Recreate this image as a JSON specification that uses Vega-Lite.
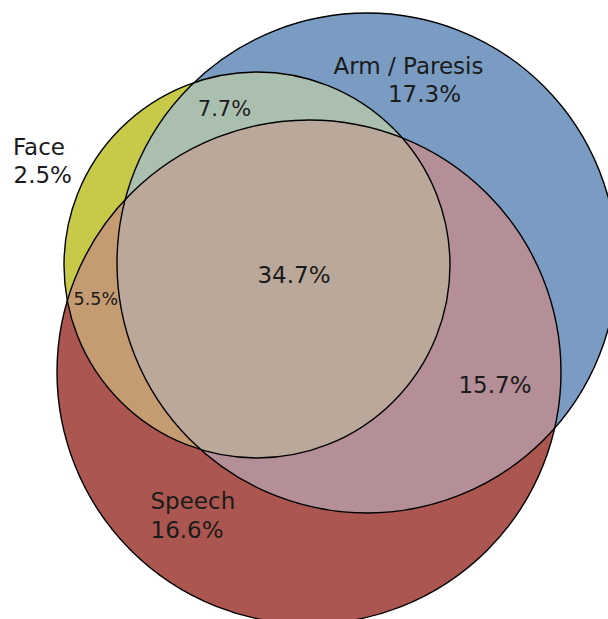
{"$schema":"https://vega.github.io/schema/vega-lite/v6.json","width":608,"height":619,"padding":0,"autosize":{"type":"none"},"background":"white","config":{"view":{"stroke":null}},"datasets":{"circles":[{"set":"Face","x":257,"y":265,"r":193},{"set":"Arm / Paresis","x":367,"y":263,"r":250},{"set":"Speech","x":309,"y":372,"r":252}]},"encoding":{"x":{"field":"x","type":"quantitative","scale":{"domain":[0,608]},"axis":null},"y":{"field":"y","type":"quantitative","scale":{"domain":[0,619],"reverse":true},"axis":null}},"layer":[{"data":{"name":"circles"},"transform":[{"filter":"datum.set == 'Face'"}],"mark":{"type":"point","shape":"circle","filled":true,"color":"#71f300","opacity":1,"strokeWidth":0,"clip":true},"encoding":{"size":{"field":"r","type":"quantitative","scale":{"type":"pow","exponent":2,"domain":[0,300],"range":[0,360000]},"legend":null}}},{"data":{"name":"circles"},"transform":[{"filter":"datum.set == 'Arm / Paresis'"}],"mark":{"type":"point","shape":"circle","filled":true,"color":"#2e0033","opacity":1,"strokeWidth":0,"clip":true},"encoding":{"size":{"field":"r","type":"quantitative","scale":{"type":"pow","exponent":2,"domain":[0,300],"range":[0,360000]},"legend":null}}},{"data":{"name":"circles"},"transform":[{"filter":"datum.set == 'Speech'"}],"mark":{"type":"point","shape":"circle","filled":true,"color":"#7a1203","opacity":1,"strokeWidth":0,"clip":true},"encoding":{"size":{"field":"r","type":"quantitative","scale":{"type":"pow","exponent":2,"domain":[0,300],"range":[0,360000]},"legend":null}}},{"data":{"name":"circles"},"transform":[{"filter":"datum.set == 'Face'"}],"mark":{"type":"point","shape":"circle","filled":true,"color":"#ffc619","opacity":0.7,"strokeWidth":0,"clip":true},"encoding":{"size":{"field":"r","type":"quantitative","scale":{"type":"pow","exponent":2,"domain":[0,300],"range":[0,360000]},"legend":null}}},{"data":{"name":"circles"},"transform":[{"filter":"datum.set == 'Arm / Paresis'"}],"mark":{"type":"point","shape":"circle","filled":true,"color":"#9bddff","opacity":0.7,"strokeWidth":0,"clip":true},"encoding":{"size":{"field":"r","type":"quantitative","scale":{"type":"pow","exponent":2,"domain":[0,300],"range":[0,360000]},"legend":null}}},{"data":{"name":"circles"},"transform":[{"filter":"datum.set == 'Speech'"}],"mark":{"type":"point","shape":"circle","filled":true,"color":"#cb8483","opacity":0.6,"strokeWidth":0,"clip":true},"encoding":{"size":{"field":"r","type":"quantitative","scale":{"type":"pow","exponent":2,"domain":[0,300],"range":[0,360000]},"legend":null}}},{"data":{"name":"circles"},"transform":[{"filter":"datum.set == 'Face'"}],"mark":{"type":"point","shape":"circle","filled":true,"color":"#b3b99c","opacity":0.4,"strokeWidth":0,"clip":true},"encoding":{"size":{"field":"r","type":"quantitative","scale":{"type":"pow","exponent":2,"domain":[0,300],"range":[0,360000]},"legend":null}}},{"data":{"name":"circles"},"mark":{"type":"point","shape":"circle","filled":false,"color":"#000000","opacity":1,"strokeWidth":1.4,"clip":true},"encoding":{"size":{"field":"r","type":"quantitative","scale":{"type":"pow","exponent":2,"domain":[0,300],"range":[0,360000]},"legend":null}}},{"data":{"values":[{"label":"Arm / Paresis","x":408.5,"y":74},{"label":"17.3%","x":424.5,"y":101.7},{"label":"34.7%","x":294,"y":283},{"label":"15.7%","x":495,"y":392.7}]},"mark":{"type":"text","align":"center","baseline":"alphabetic","font":"DejaVu Sans","fontSize":23,"color":"#1b1b1b"},"encoding":{"text":{"field":"label"}}},{"data":{"values":[{"label":"Face","x":13,"y":154.5},{"label":"2.5%","x":13.5,"y":182.7},{"label":"Speech","x":150.5,"y":509.3},{"label":"16.6%","x":150.5,"y":537.7}]},"mark":{"type":"text","align":"left","baseline":"alphabetic","font":"DejaVu Sans","fontSize":23,"color":"#1b1b1b"},"encoding":{"text":{"field":"label"}}},{"data":{"values":[{"label":"7.7%","x":224.5,"y":116}]},"mark":{"type":"text","align":"center","baseline":"alphabetic","font":"DejaVu Sans","fontSize":21,"color":"#1b1b1b"},"encoding":{"text":{"field":"label"}}},{"data":{"values":[{"label":"5.5%","x":95.8,"y":305}]},"mark":{"type":"text","align":"center","baseline":"alphabetic","font":"DejaVu Sans","fontSize":17.5,"color":"#1b1b1b"},"encoding":{"text":{"field":"label"}}}]}
